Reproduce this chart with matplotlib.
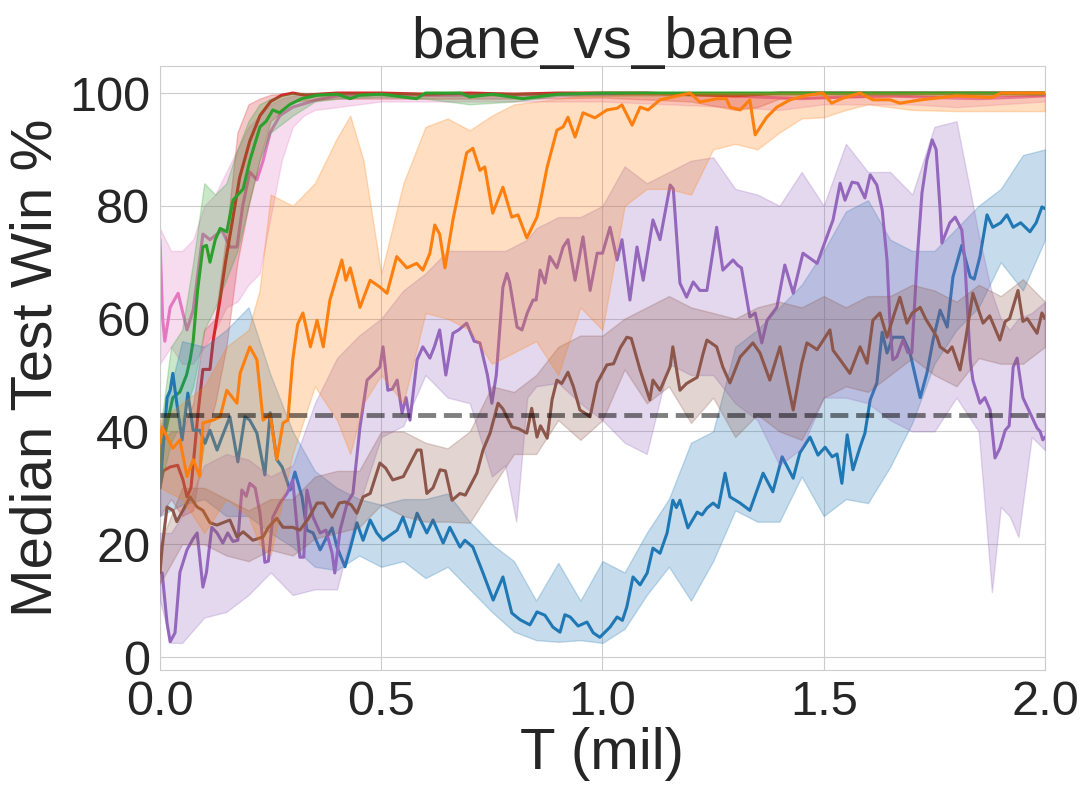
import matplotlib
matplotlib.use("Agg")
import matplotlib.pyplot as plt
import seaborn as sns

# ---- median lines (T in millions, win % ) ----
blue_t = [0.0, 0.005, 0.016, 0.023, 0.029, 0.038, 0.05, 0.063, 0.075, 0.09,
          0.102, 0.113, 0.129, 0.14, 0.158, 0.176, 0.192, 0.203, 0.219, 0.237,
          0.249, 0.264, 0.276, 0.294, 0.305, 0.321, 0.332, 0.346, 0.362, 0.377,
          0.389, 0.40, 0.418, 0.429, 0.445, 0.459, 0.475, 0.49, 0.504, 0.536,
          0.549, 0.565, 0.581, 0.603, 0.617, 0.64, 0.655, 0.678, 0.689, 0.707,
          0.73, 0.753, 0.775, 0.795, 0.814, 0.836, 0.852, 0.87, 0.888, 0.904,
          0.915, 0.927, 0.945, 0.965, 0.979, 0.994, 1.017, 1.033, 1.045, 1.055,
          1.069, 1.085, 1.101, 1.114, 1.13, 1.146, 1.159, 1.167, 1.175, 1.193,
          1.214, 1.225, 1.236, 1.25, 1.262, 1.277, 1.288, 1.311, 1.333, 1.363,
          1.385, 1.406, 1.431, 1.446, 1.469, 1.487, 1.503, 1.519, 1.53, 1.541,
          1.553, 1.566, 1.582, 1.593, 1.605, 1.62, 1.632, 1.643, 1.656, 1.679,
          1.695, 1.718, 1.733, 1.747, 1.763, 1.779, 1.792, 1.812, 1.831, 1.84,
          1.853, 1.869, 1.882, 1.9, 1.914, 1.928, 1.945, 1.966, 1.98, 1.993,
          2.0]
blue_med = [30, 35, 46, 47.3, 50.3, 45, 38.5, 46.8, 40.2, 40.2,
            37.9, 40.2, 36.7, 39, 42.6, 34.6, 42.6, 42, 39.7, 32.3,
            43.3, 35, 33.7, 29.6, 32.8, 28.4, 22.5, 22, 19, 21.3,
            22.9, 19.5, 16, 19, 23.8, 20.7, 24.3, 22, 20.7, 22.5,
            24.8, 21.3, 25.5, 22, 24.3, 20.2, 23, 19.5, 20.7, 19.5,
            14.9, 10.1, 14.2, 7.8, 6.6, 5.7, 8, 7.4, 5.3, 4.4,
            7.5, 7.1, 5.5, 6.2, 4.3, 3.5, 5.3, 7.1, 6.5, 8.9,
            14.2, 12.8, 14.9, 19.3, 18.4, 22, 27.8, 26.5, 27.8, 22.9,
            25.7, 25.2, 26.4, 27.3, 26.5, 32.6, 28.4, 27.3, 26, 32.6,
            29.3, 35.5, 31.7, 36.2, 39, 35.8, 37.2, 35.5, 36, 30.8,
            39.4, 33.2, 37.2, 39.7, 45.6, 48.6, 57.6, 53.9, 56.7, 56.7,
            53.9, 46, 50.3, 56.2, 61.5, 58.5, 67.4, 73, 67.4, 67,
            71, 78.4, 76.2, 77, 78.4, 76.2, 77, 75.4, 77, 79.8,
            79.5]

orange_t = [0.0, 0.005, 0.016, 0.029, 0.045, 0.061, 0.075, 0.09, 0.097, 0.12,
            0.136, 0.151, 0.174, 0.181, 0.203, 0.219, 0.233, 0.249, 0.264, 0.278,
            0.289, 0.30, 0.311, 0.323, 0.34, 0.355, 0.369, 0.384, 0.411, 0.42,
            0.43, 0.452, 0.475, 0.497, 0.513, 0.535, 0.558, 0.58, 0.594, 0.61,
            0.621, 0.632, 0.644, 0.662, 0.693, 0.707, 0.723, 0.734, 0.752, 0.775,
            0.795, 0.809, 0.829, 0.852, 0.859, 0.875, 0.897, 0.911, 0.922, 0.938,
            0.956, 0.983, 1.01, 1.033, 1.044, 1.067, 1.085, 1.103, 1.13, 1.159,
            1.198, 1.22, 1.258, 1.28, 1.288, 1.311, 1.333, 1.345, 1.371, 1.394,
            1.424, 1.462, 1.498, 1.518, 1.54, 1.582, 1.611, 1.65, 1.672, 1.72,
            1.8, 1.88, 1.9, 2.0]
orange_med = [38, 40.8, 39, 37, 38.5, 32, 35, 32, 41.5, 42,
              42.6, 47.3, 45, 50.3, 55, 52.7, 42, 43, 35, 41.5,
              42, 52.7, 59, 61, 55, 59.7, 55, 63.3, 70.4, 66.8,
              69, 62, 66.8, 65.6, 64.5, 71, 69, 69.8, 68.6, 71.6,
              76.6, 75, 69, 77.5, 89.4, 90.2, 86.3, 86.9, 78.7, 83.3,
              78, 78.4, 74.3, 78, 80.5, 86.9, 93.4, 94, 95.7, 92.2,
              96.5, 95.6, 97, 97.3, 97.9, 94.3, 97.5, 97, 98.8, 99.3,
              100, 98.4, 99, 99, 97.5, 97, 98.8, 92.6, 95.7, 97.5,
              98.8, 99.6, 100, 98.2, 99, 100, 98.8, 98.8, 98.2, 98.8,
              99.5, 99.2, 100, 100]

green_t = [0.0, 0.007, 0.029, 0.045, 0.06, 0.068, 0.075, 0.085, 0.097, 0.105,
           0.113, 0.125, 0.136, 0.151, 0.165, 0.188, 0.203, 0.226, 0.24, 0.255,
           0.27, 0.294, 0.32, 0.355, 0.4, 0.43, 0.45, 0.5, 0.58, 0.6,
           0.68, 0.7, 0.75, 0.82, 0.9, 1.0, 1.2, 1.5, 1.8, 2.0]
green_med = [33, 38, 46, 47, 50, 52.7, 56, 65, 72.7, 73,
             70, 74, 76, 75.4, 81, 83, 88, 94, 95, 97,
             96.5, 98, 99, 99.6, 99.8, 99, 99.6, 99.8, 99, 100,
             100, 99.3, 99.8, 99, 99.8, 100, 100, 100, 100, 100]

red_t = [0.0, 0.007, 0.023, 0.04, 0.052, 0.061, 0.07, 0.075, 0.086, 0.097,
         0.113, 0.12, 0.135, 0.148, 0.163, 0.18, 0.203, 0.226, 0.25, 0.275,
         0.30, 0.33, 0.36, 0.4, 0.5, 0.6, 0.7, 0.8, 0.9, 1.0,
         1.1, 1.2, 1.3, 1.4, 1.5, 1.6, 1.7, 1.8, 1.9, 2.0]
red_med = [30, 33, 33.7, 34, 31.4, 28.4, 30, 34, 43.3, 51,
           51, 56, 63, 70, 77, 85, 91.5, 96, 98.5, 99.6,
           100, 99.6, 99.8, 100, 100, 99.8, 100, 99.8, 100, 100,
           100, 99.7, 99.5, 100, 100, 100, 100, 100, 100, 100]

purple_t = [0.0, 0.005, 0.016, 0.023, 0.034, 0.045, 0.061, 0.075, 0.084, 0.097,
            0.105, 0.117, 0.129, 0.142, 0.153, 0.165, 0.176, 0.185, 0.195, 0.203,
            0.215, 0.226, 0.237, 0.245, 0.255, 0.271, 0.287, 0.30, 0.316, 0.325,
            0.332, 0.346, 0.362, 0.375, 0.389, 0.395, 0.407, 0.423, 0.436, 0.452,
            0.468, 0.48, 0.497, 0.504, 0.515, 0.525, 0.536, 0.547, 0.556, 0.565,
            0.581, 0.594, 0.61, 0.62, 0.632, 0.646, 0.662, 0.675, 0.693, 0.71,
            0.723, 0.74, 0.75, 0.76, 0.775, 0.784, 0.79, 0.807, 0.818, 0.83,
            0.843, 0.85, 0.859, 0.87, 0.881, 0.897, 0.911, 0.922, 0.938, 0.956,
            0.972, 0.988, 1.0, 1.017, 1.033, 1.044, 1.062, 1.078, 1.092, 1.114,
            1.13, 1.153, 1.16, 1.175, 1.19, 1.205, 1.22, 1.236, 1.258, 1.272,
            1.295, 1.305, 1.314, 1.333, 1.345, 1.36, 1.372, 1.394, 1.412, 1.431,
            1.453, 1.485, 1.507, 1.521, 1.537, 1.548, 1.564, 1.577, 1.593, 1.605,
            1.62, 1.632, 1.643, 1.65, 1.656, 1.665, 1.679, 1.69, 1.699, 1.711,
            1.722, 1.733, 1.745, 1.754, 1.763, 1.767, 1.785, 1.797, 1.812, 1.819,
            1.831, 1.837, 1.853, 1.864, 1.876, 1.887, 1.898, 1.91, 1.919, 1.928,
            1.937, 1.95, 1.966, 1.982, 1.989, 1.995, 2.0]
purple_med = [15, 14.9, 6, 2.7, 4.3, 15, 19, 21, 22, 12.4,
              15, 23, 22, 20.2, 22, 20.5, 20.7, 29.6, 28.5, 30.8,
              30, 25.5, 16.8, 17, 24.8, 27.3, 29, 31.4, 17.7, 17.7,
              29.6, 24.8, 22, 22.5, 18.4, 14.9, 22.5, 27.3, 29, 40.8,
              49.1, 50, 51.4, 55, 47.3, 47.5, 49.1, 43.3, 46, 42,
              52.7, 55, 53, 55, 58, 50, 57.4, 58, 59.2, 56,
              55.7, 50, 45, 50, 65.6, 68, 66.5, 58.5, 58, 61,
              63.3, 63.3, 68.6, 66.3, 71, 69, 72.7, 74, 66.8, 74.5,
              65, 71.6, 71.6, 76.2, 70.4, 74, 63.3, 72.7, 66.8, 77.5,
              74, 83.7, 83, 66.3, 63.8, 66.5, 65, 65, 76.2, 68.6,
              70.4, 69.5, 69, 60.3, 61, 55.7, 59.7, 62, 69.5, 64.5,
              71.6, 69.8, 74.5, 77.5, 84, 81, 84.2, 84, 81.4, 85.5,
              83.7, 79.3, 70.4, 58.5, 52.7, 53.2, 56.2, 54, 53.9, 70.4,
              82.3, 88.1, 91.7, 90, 79.3, 73.4, 77, 78, 75.7, 70,
              52.7, 49.1, 45, 46, 43.8, 35.3, 37, 40.2, 41, 51.4,
              53, 46, 43.3, 40.6, 40, 38.5, 39]

brown_t = [0.0, 0.005, 0.016, 0.029, 0.038, 0.052, 0.068, 0.084, 0.097, 0.113,
           0.129, 0.158, 0.174, 0.188, 0.21, 0.233, 0.245, 0.264, 0.278, 0.30,
           0.316, 0.335, 0.355, 0.37, 0.389, 0.405, 0.418, 0.432, 0.445, 0.459,
           0.475, 0.497, 0.51, 0.526, 0.55, 0.581, 0.59, 0.603, 0.617, 0.633,
           0.645, 0.66, 0.678, 0.69, 0.716, 0.73, 0.746, 0.764, 0.775, 0.795,
           0.81, 0.829, 0.84, 0.852, 0.86, 0.875, 0.886, 0.897, 0.908, 0.922,
           0.934, 0.949, 0.965, 0.972, 0.988, 1.01, 1.025, 1.04, 1.055, 1.065,
           1.085, 1.107, 1.114, 1.13, 1.153, 1.159, 1.175, 1.19, 1.214, 1.227,
           1.236, 1.258, 1.272, 1.288, 1.311, 1.34, 1.356, 1.378, 1.401, 1.431,
           1.45, 1.462, 1.485, 1.514, 1.521, 1.537, 1.559, 1.582, 1.598, 1.611,
           1.627, 1.643, 1.66, 1.672, 1.688, 1.70, 1.718, 1.73, 1.756, 1.763,
           1.78, 1.79, 1.808, 1.82, 1.831, 1.837, 1.86, 1.875, 1.898, 1.91,
           1.92, 1.939, 1.95, 1.96, 1.982, 1.993, 2.0]
brown_med = [15, 19.5, 26.6, 26, 24, 26, 28.4, 26.6, 26, 23.8,
             23.4, 24.3, 21.3, 22.2, 20.7, 21.3, 23, 24.6, 23, 23,
             22.5, 24.5, 27.3, 27.3, 24.8, 27.3, 27.5, 27, 25.5, 28.4,
             29, 34.4, 33.5, 31.4, 32, 36.7, 36.7, 29, 30, 33.2,
             33, 27.8, 29, 28.7, 32.6, 36.7, 39.7, 45, 44, 40.8,
             40.5, 39.7, 44.1, 39, 41, 38.8, 45.6, 49.1, 48.5, 50.5,
             48, 43.8, 43, 42.6, 48.6, 51.8, 52, 54.8, 56.7, 56.5,
             50.9, 45.6, 49.1, 47.3, 51.5, 55, 47.3, 48.5, 49.6, 53.7,
             56.2, 55, 51.4, 48.6, 53.2, 55.7, 53.9, 49.1, 55, 43.8,
             52, 55.7, 54.5, 58, 54.4, 52.7, 50.3, 55, 52.1, 59.7,
             61, 56.7, 61, 63.8, 59.2, 61, 62, 60, 56.7, 55,
             54, 55, 50.9, 56, 61.5, 64.5, 59.2, 60.5, 56.2, 59.5,
             60, 65, 59.5, 60, 57.4, 61, 60]

pink_t = [0.0, 0.006, 0.011, 0.023, 0.041, 0.061, 0.075, 0.097, 0.113, 0.14,
          0.158, 0.174, 0.187, 0.203, 0.219, 0.233, 0.249, 0.271, 0.30, 0.355,
          0.4, 0.5, 0.6, 0.8, 1.0, 1.2, 1.35, 1.45, 1.55, 1.65,
          1.75, 1.85, 1.95, 2.0]
pink_med = [74, 60, 56, 62, 64.5, 58, 61.5, 75, 74, 75.7,
            72.7, 72.7, 80, 86, 84.6, 88, 93, 96, 97.5, 98.8,
            99.5, 99.8, 99.6, 99.7, 99.8, 99.8, 99.3, 99, 99.3, 99.5,
            99.2, 99, 99.3, 99.5]

# ---- shaded spread around each median ----
blue_band_t = [0.0, 0.05, 0.1, 0.15, 0.2, 0.25, 0.3, 0.35, 0.4, 0.45,
               0.5, 0.55, 0.6, 0.65, 0.7, 0.75, 0.8, 0.85, 0.9, 0.95,
               1.0, 1.05, 1.1, 1.15, 1.2, 1.25, 1.3, 1.35, 1.4, 1.45,
               1.5, 1.55, 1.6, 1.65, 1.7, 1.75, 1.8, 1.85, 1.9, 1.95, 2.0]
blue_lo = [25, 27, 28, 25, 25, 22, 19.5, 16, 15.4, 18,
           16, 17, 14, 16, 12, 8, 4.5, 3, 2.7, 3,
           2.5, 5, 11, 16, 10, 17, 26, 24, 24, 32,
           25, 28, 27.3, 33.7, 41.5, 52, 58, 62, 70, 65, 74]
blue_hi = [40, 56, 55, 58, 62, 50, 40, 33, 30, 28,
           27, 28, 28, 29, 24, 20, 17, 10, 16.7, 10,
           17, 15, 22, 28, 38, 40, 55, 58, 62, 66,
           72, 79, 81, 74, 72, 72, 76, 80, 83, 89, 90]

orange_band_t = [0.0, 0.05, 0.1, 0.15, 0.2, 0.225, 0.25, 0.3, 0.35, 0.4,
                 0.43, 0.46, 0.5, 0.55, 0.6, 0.65, 0.7, 0.75, 0.8, 0.85,
                 0.9, 0.95, 1.0, 1.05, 1.1, 1.15, 1.2, 1.25, 1.3, 1.35,
                 1.4, 1.45, 1.5, 1.55, 1.6, 1.7, 1.8, 1.9, 2.0]
orange_lo = [30, 28, 22, 28, 25, 20, 18, 36, 48, 42,
             36, 45, 50, 45, 61, 60, 58, 52, 54, 56,
             50, 62, 58, 80, 83, 83, 82, 90, 91, 90,
             93, 95.5, 95.7, 97, 98, 97, 96.8, 96.8, 96.8]
orange_hi = [42, 45, 48, 55, 58, 65, 82, 80, 84, 92,
             96, 88, 68, 84, 94, 95.5, 93.4, 96, 98, 98.5,
             99, 99.5, 99.5, 99.7, 99.8, 99.8, 100, 100, 100, 100,
             100, 100, 100, 100, 100, 100, 100, 100, 100]

green_band_t = [0.0, 0.025, 0.05, 0.075, 0.1, 0.125, 0.15, 0.175, 0.2, 0.225,
                0.25, 0.3, 0.35, 0.4, 0.5, 0.6, 0.7, 0.8, 0.9, 1.0, 1.5, 2.0]
green_lo = [30, 38, 42, 48, 58, 62, 67, 72, 80, 88,
            93, 96, 98.5, 99, 99.3, 99, 98, 98.5, 99.5, 99.5, 99.7, 99.7]
green_hi = [40, 55, 58, 70, 84, 82, 84, 90, 95, 98,
            99, 100, 100, 100, 100, 100, 100, 100, 100, 100, 100, 100]

red_band_t = [0.0, 0.025, 0.05, 0.075, 0.1, 0.125, 0.15, 0.175, 0.2, 0.225,
              0.25, 0.3, 0.4, 0.6, 0.8, 1.0, 1.2, 1.3, 1.35, 1.4, 1.6, 1.8, 2.0]
red_lo = [25, 28, 25, 26, 38, 45, 55, 70, 80, 88,
          95, 98.5, 99, 99, 99, 99.2, 98.5, 97, 97.5, 99, 99.3, 99.5, 99.5]
red_hi = [38, 40, 40, 45, 58, 60, 75, 93, 98, 99,
          99.7, 100, 100, 100, 100, 100, 100, 100, 100, 100, 100, 100, 100]

purple_band_t = [0.0, 0.025, 0.05, 0.1, 0.15, 0.2, 0.25, 0.3, 0.35, 0.4,
                 0.45, 0.5, 0.55, 0.6, 0.65, 0.7, 0.75, 0.78, 0.805, 0.83,
                 0.85, 0.9, 0.95, 1.0, 1.05, 1.1, 1.15, 1.2, 1.25, 1.3,
                 1.35, 1.4, 1.45, 1.5, 1.55, 1.6, 1.65, 1.7, 1.75, 1.8,
                 1.85, 1.88, 1.9, 1.92, 1.94, 1.97, 2.0]
purple_lo = [10, 2.5, 2.5, 7, 8, 11, 15, 11, 12, 12,
             27, 39, 41, 50, 46, 45, 32, 34, 24, 46,
             48, 48.6, 45, 42, 38, 36, 52, 50, 50, 45,
             42, 34, 37, 46, 46, 45, 42, 40, 40, 46,
             40, 11.5, 26.6, 25, 21.3, 39, 36.7]
purple_hi = [22, 22, 25, 34, 36, 35, 32, 34, 45, 53,
             57, 60, 65, 68, 72, 72, 72, 72, 73, 74,
             76, 78, 78, 80, 87, 84, 86, 88, 88.6, 83,
             82, 80, 86, 80, 91, 86, 86, 82, 94, 95,
             75, 64.5, 60, 58, 60, 61, 63]

brown_band_t = [0.0, 0.05, 0.1, 0.15, 0.2, 0.25, 0.3, 0.35, 0.4, 0.45,
                0.5, 0.55, 0.6, 0.65, 0.7, 0.75, 0.8, 0.85, 0.9, 0.95,
                1.0, 1.05, 1.1, 1.15, 1.2, 1.25, 1.3, 1.35, 1.4, 1.45,
                1.5, 1.55, 1.6, 1.65, 1.7, 1.75, 1.8, 1.85, 1.9, 1.95, 2.0]
brown_lo = [13, 20, 20, 18, 17, 19, 18, 21, 22, 23,
            27, 25, 24, 24, 23.8, 30, 36, 36, 42, 38.5,
            42, 51, 45, 48, 41.5, 46, 39, 43, 40, 38.5,
            46, 48, 47, 50, 53, 50, 48, 53, 52, 52, 55]
brown_hi = [20, 30, 30, 28, 26, 28, 28, 32, 33, 33,
            40, 40, 38, 37, 40, 48, 47, 50, 55, 57,
            57, 60, 62, 64, 62, 61, 60, 62, 63, 62,
            64, 62, 64, 64, 66, 65, 63, 66, 64, 67, 63]

pink_band_t = [0.0, 0.025, 0.05, 0.075, 0.1, 0.125, 0.15, 0.175, 0.2, 0.225,
               0.25, 0.275, 0.3, 0.325, 0.35, 0.4, 0.5, 1.0, 1.3, 1.4,
               1.5, 1.7, 1.8, 1.9, 2.0]
pink_lo = [52, 55, 52, 52, 55, 58, 62, 63, 66, 68,
           78, 88, 94, 96, 97, 97.5, 98.5, 98.5, 97.5, 97,
           98, 98, 97.5, 98, 98.5]
pink_hi = [76, 72, 72, 74, 80, 82, 86, 90, 94, 96,
           98, 99, 99.5, 100, 100, 100, 100, 100, 100, 100,
           100, 100, 100, 100, 100]

baseline_win = 42.9


def draw_series(ax, t, med, band_t, lo, hi, color, z):
    ax.fill_between(band_t, lo, hi, color=color, alpha=0.25, zorder=z)
    ax.plot(t, med, color=color, lw=2.2, zorder=z + 0.5)


def main() -> None:
    sns.set_style("whitegrid")
    plt.rcParams["font.family"] = ["Liberation Sans", "DejaVu Sans"]

    fig = plt.figure(figsize=(10.89, 7.9), dpi=100)
    ax = fig.add_axes([0.1469, 0.1519, 0.8127, 0.7646])

    draw_series(ax, pink_t, pink_med, pink_band_t, pink_lo, pink_hi, "tab:pink", 2)
    draw_series(ax, red_t, red_med, red_band_t, red_lo, red_hi, "tab:red", 3)
    draw_series(ax, green_t, green_med, green_band_t, green_lo, green_hi, "tab:green", 4)
    draw_series(ax, blue_t, blue_med, blue_band_t, blue_lo, blue_hi, "tab:blue", 5)
    draw_series(ax, purple_t, purple_med, purple_band_t, purple_lo, purple_hi, "tab:purple", 6)
    draw_series(ax, brown_t, brown_med, brown_band_t, brown_lo, brown_hi, "tab:brown", 7)
    draw_series(ax, orange_t, orange_med, orange_band_t, orange_lo, orange_hi, "tab:orange", 8)

    ax.axhline(baseline_win, color="black", alpha=0.5, lw=3.5, ls="--", zorder=10)

    ax.set_xlim(0, 2.0)
    ax.set_ylim(-2.3, 104.8)
    ax.set_xticks([0.0, 0.5, 1.0, 1.5, 2.0])
    ax.set_yticks([0, 20, 40, 60, 80, 100])
    ax.tick_params(labelsize=35, colors="#262626")
    ax.set_xlabel("T (mil)", fontsize=42, color="#262626", labelpad=2)
    ax.set_ylabel("Median Test Win %", fontsize=42, color="#262626", labelpad=4)
    ax.set_title("bane_vs_bane", fontsize=42, color="#262626")

    fig.savefig("out.png", dpi=100)
    plt.close(fig)


if __name__ == "__main__":
    main()
